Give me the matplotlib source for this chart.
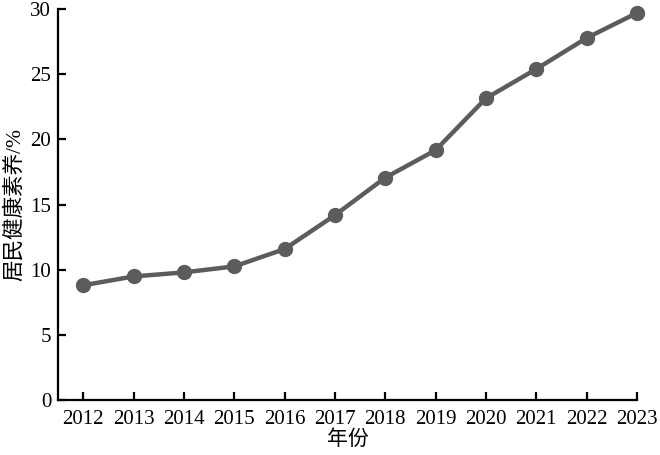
import matplotlib
matplotlib.use('Agg')
from matplotlib import pyplot as plt

plt.rcParams['font.family'] = ['Liberation Serif', 'Noto Sans CJK SC']

years = [2012, 2013, 2014, 2015, 2016, 2017, 2018, 2019, 2020, 2021, 2022, 2023]
literacy = [8.80, 9.48, 9.79, 10.25, 11.58, 14.18, 17.06, 19.17, 23.15, 25.40, 27.78, 29.70]

fig = plt.figure(figsize=(6.6, 4.55), dpi=100)
ax = fig.add_axes([0.088, 0.121, 0.877, 0.859])

ax.plot(years, literacy, color='#5c5c5c', linewidth=3.2, marker='o', markersize=10,
        clip_on=False)

ax.set_xlim(2011.5, 2023)
ax.set_ylim(0, 30)
ax.set_xticks(years)
ax.set_yticks(range(0, 31, 5))

for side in ['top', 'right']:
    ax.spines[side].set_visible(False)
for side in ['left', 'bottom']:
    ax.spines[side].set_linewidth(1.6)

ax.tick_params(direction='in', length=6, width=1.6, labelsize=15, pad=5)
ax.tick_params(axis='x', pad=7)
ax.set_xlabel('年份', fontsize=15, labelpad=1)
ax.set_ylabel('居民健康素养/%', fontsize=15.5, labelpad=4)

fig.savefig('out.png', dpi=100)
